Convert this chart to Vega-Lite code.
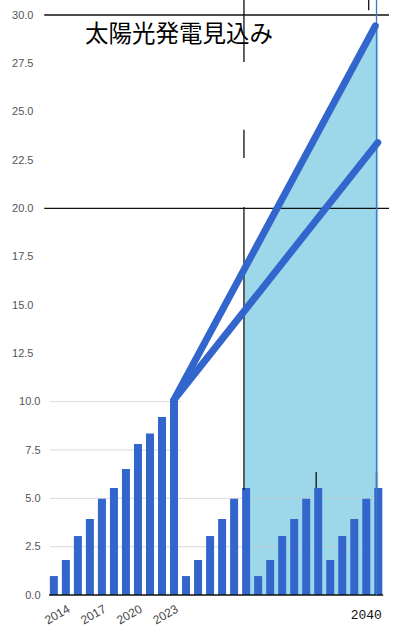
{
  "$schema": "https://vega.github.io/schema/vega-lite/v6.json",
  "width": 352,
  "height": 580,
  "autosize": {"type": "none"},
  "padding": {"left": 42, "top": 15, "right": 0, "bottom": 41},
  "config": {"view": {"stroke": null}},
  "datasets": {
    "bars": [
      {"year": 2013, "value": 0.98}, {"year": 2014, "value": 1.81}, {"year": 2015, "value": 3.05},
      {"year": 2016, "value": 3.93}, {"year": 2017, "value": 4.98}, {"year": 2018, "value": 5.54},
      {"year": 2019, "value": 6.52}, {"year": 2020, "value": 7.81}, {"year": 2021, "value": 8.35},
      {"year": 2022, "value": 9.21}, {"year": 2023, "value": 10.14},
      {"year": 2024, "value": 0.98}, {"year": 2025, "value": 1.81}, {"year": 2026, "value": 3.05},
      {"year": 2027, "value": 3.93}, {"year": 2028, "value": 4.98}, {"year": 2029, "value": 5.54},
      {"year": 2030, "value": 0.98}, {"year": 2031, "value": 1.81}, {"year": 2032, "value": 3.05},
      {"year": 2033, "value": 3.93}, {"year": 2034, "value": 4.98}, {"year": 2035, "value": 5.54},
      {"year": 2036, "value": 1.81}, {"year": 2037, "value": 3.05}, {"year": 2038, "value": 3.93},
      {"year": 2039, "value": 4.98}, {"year": 2040, "value": 5.54}
    ],
    "lines": [
      {"series": "high", "year": 2023, "value": 10.1}, {"series": "high", "year": 2039.75, "value": 29.44},
      {"series": "low", "year": 2023, "value": 10.1}, {"series": "low", "year": 2039.95, "value": 23.4}
    ],
    "area": [
      {"year": 2028.85, "value": 16.76}, {"year": 2040.0, "value": 29.44}
    ],
    "grid": [
      {"value": 2.5, "year": 2012.7, "year2": 2040.4},
      {"value": 5.0, "year": 2012.7, "year2": 2040.4},
      {"value": 7.5, "year": 2012.7, "year2": 2023.6},
      {"value": 10.0, "year": 2012.7, "year2": 2023.6}
    ],
    "hrules": [
      {"value": 30, "year": 2012.2, "year2": 2040.89},
      {"value": 20, "year": 2012.2, "year2": 2040.89},
      {"value": 0, "year": 2012.6, "year2": 2040.4}
    ],
    "vrules": [
      {"year": 2028.82, "value": 30.78, "value2": 27.57},
      {"year": 2028.82, "value": 24.06, "value2": 22.6},
      {"year": 2028.82, "value": 20.07, "value2": 5.43},
      {"year": 2034.83, "value": 6.36, "value2": 5.54},
      {"year": 2039.85, "value": 6.36, "value2": 5.54},
      {"year": 2039.2, "value": 30.78, "value2": 30.25}
    ],
    "bluerule": [
      {"year": 2039.85, "value": 30.78, "value2": 0}
    ],
    "texts": [
      {"label": "太陽光発電見込み", "year": 2015.6, "value": 28.97}
    ],
    "xlabel": [
      {"label": "2040", "year": 2040.3, "value": -1.03}
    ]
  },
  "layer": [
    {
      "data": {"name": "area"},
      "mark": {"type": "area", "color": "#9dd8ea", "opacity": 1},
      "encoding": {
        "x": {"field": "year", "type": "quantitative", "title": null,
          "scale": {"domain": [2012.43, 2040.89], "nice": false, "zero": false},
          "axis": {"values": [2014, 2017, 2020, 2023], "format": "d", "labelAngle": -30,
            "labelColor": "#444", "labelFontSize": 12, "labelFont": "Liberation Sans",
            "domain": false, "ticks": false, "grid": false, "labelPadding": 8}},
        "y": {"field": "value", "type": "quantitative", "title": null,
          "scale": {"domain": [0, 30], "nice": false, "zero": true},
          "axis": {"values": [0, 2.5, 5, 7.5, 10, 12.5, 15, 17.5, 20, 22.5, 25, 27.5, 30],
            "format": ".1f", "labelColor": "#555", "labelFontSize": 11, "labelFont": "Liberation Sans",
            "domain": false, "ticks": false, "grid": false,
            "labelPadding": {"condition": {"test": "datum.value <= 10", "value": 2}, "value": 9}}}
      }
    },
    {
      "data": {"name": "grid"},
      "mark": {"type": "rule", "color": "#cccccc", "strokeWidth": 1, "opacity": 0.7},
      "encoding": {
        "x": {"field": "year", "type": "quantitative", "title": null},
        "x2": {"field": "year2"},
        "y": {"field": "value", "type": "quantitative", "title": null}
      }
    },
    {
      "data": {"name": "bars"},
      "mark": {"type": "bar", "color": "#3366cc", "size": 8},
      "encoding": {
        "x": {"field": "year", "type": "quantitative", "title": null},
        "y": {"field": "value", "type": "quantitative", "title": null}
      }
    },
    {
      "data": {"name": "hrules"},
      "mark": {"type": "rule", "color": "#111", "strokeWidth": 1.3},
      "encoding": {
        "x": {"field": "year", "type": "quantitative", "title": null},
        "x2": {"field": "year2"},
        "y": {"field": "value", "type": "quantitative", "title": null}
      }
    },
    {
      "data": {"name": "vrules"},
      "mark": {"type": "rule", "color": "#111", "strokeWidth": 1.3},
      "encoding": {
        "x": {"field": "year", "type": "quantitative", "title": null},
        "y": {"field": "value", "type": "quantitative", "title": null},
        "y2": {"field": "value2"}
      }
    },
    {
      "data": {"name": "bluerule"},
      "mark": {"type": "rule", "color": "#3f78c8", "strokeWidth": 1.3},
      "encoding": {
        "x": {"field": "year", "type": "quantitative", "title": null},
        "y": {"field": "value", "type": "quantitative", "title": null},
        "y2": {"field": "value2"}
      }
    },
    {
      "data": {"name": "lines"},
      "mark": {"type": "line", "color": "#3366cc", "strokeWidth": 7, "strokeCap": "round"},
      "encoding": {
        "x": {"field": "year", "type": "quantitative", "title": null},
        "y": {"field": "value", "type": "quantitative", "title": null},
        "detail": {"field": "series"}
      }
    },
    {
      "data": {"name": "texts"},
      "mark": {"type": "text", "font": "Noto Sans CJK JP", "fontSize": 23.5, "align": "left", "baseline": "middle", "color": "#000"},
      "encoding": {
        "x": {"field": "year", "type": "quantitative", "title": null},
        "y": {"field": "value", "type": "quantitative", "title": null},
        "text": {"field": "label"}
      }
    },
    {
      "data": {"name": "xlabel"},
      "mark": {"type": "text", "font": "Liberation Mono", "fontSize": 13, "align": "right", "baseline": "middle", "color": "#111"},
      "encoding": {
        "x": {"field": "year", "type": "quantitative", "title": null},
        "y": {"field": "value", "type": "quantitative", "title": null},
        "text": {"field": "label"}
      }
    }
  ]
}
